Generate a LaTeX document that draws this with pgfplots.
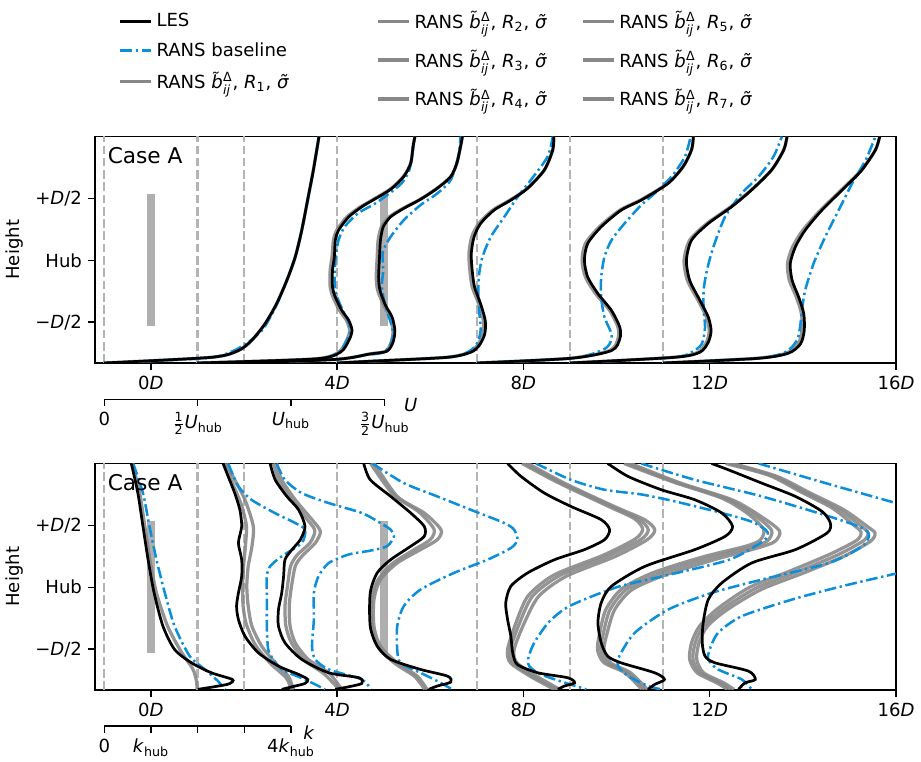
\documentclass[border=0pt]{standalone}
\usepackage{fontspec}
\setmainfont{DejaVu Sans}
\usepackage{pgfplots}
\pgfplotsset{compat=1.18}
\definecolor{rblue}{RGB}{12,143,218}
\definecolor{rgrey}{RGB}{136,136,136}
\definecolor{dgrey}{RGB}{180,180,180}
\definecolor{tgrey}{RGB}{175,175,175}
\newcommand{\bij}{\textit{b̃}$^{\mbox{\scriptsize Δ}}_{\mbox{\scriptsize\textit{ij}}}$}
\newcommand{\sig}{\textit{σ̃}}
\newcommand{\rn}[1]{RANS \bij, \textit{R}\textsubscript{#1}, \sig}
\pgfplotsset{
  les/.style={black, line width=1.5pt, smooth, tension=0.45},
  base/.style={rblue, line width=1.4pt, dash pattern=on 6.5pt off 2pt on 1.3pt off 2pt, smooth, tension=0.45},
  rans/.style={rgrey, line width=1.8pt, opacity=0.9, smooth, tension=0.45},
  vline/.style={dgrey, line width=1.3pt, dash pattern=on 4.8pt off 2pt},
  bar/.style={tgrey, line width=4.4pt, line cap=rect},
  geom/.style={scale only axis, width=443.43pt, height=125.39pt,
    xmin=-1.2, xmax=16, ymin=-0.83, ymax=1.0},
  main/.style={geom,
    xtick={0,4,8,12,16},
    xticklabels={0\textit{D},4\textit{D},8\textit{D},12\textit{D},16\textit{D}},
    ytick={-0.5,0,0.5}, yticklabels={−\textit{D}/2,Hub,+\textit{D}/2},
    tick align=outside, xtick pos=bottom, ytick pos=left,
    major tick length=3.7pt,
    axis line style={line width=0.8pt},
    every tick/.style={black, line width=0.8pt},
    ylabel={Height},
    ylabel style={at={(axis description cs:-0.0999,0.5)}, anchor=center},
  },
  leg/.style={legend style={draw=none, fill=none, font=\normalsize, anchor=north west, row sep=#1},
    legend cell align=left},
  sec/.style={scale only axis, height=2pt, ymin=0, ymax=1,
    axis x line*=bottom, hide y axis, tick align=outside,
    major tick length=3.7pt, axis line style={line width=0.8pt},
    every tick/.style={black, line width=0.8pt}},
}
\begin{document}
\begin{tikzpicture}
\useasboundingbox (0pt,0pt) rectangle (509.87pt,-421.84pt);
% ================= TOP PANEL (U) =================
\begin{axis}[main, at={(52.59pt,-200.96pt)}, anchor=south west,
  leg=3.2pt, legend style={at={(axis description cs:0.0225,1.578)}}]
\addlegendimage{black, line width=1.5pt}\addlegendentry{LES}
\addlegendimage{rblue, line width=1.4pt, dash pattern=on 6.5pt off 2pt on 1.3pt off 2pt}\addlegendentry{RANS baseline}
\addlegendimage{rgrey, line width=1.8pt}\addlegendentry{\rn{1}}
% measurement locations
\addplot[vline, forget plot] coordinates {(-1,-0.83) (-1,1)};
\addplot[vline, forget plot] coordinates {(1,-0.83) (1,1)};
\addplot[vline, forget plot] coordinates {(2,-0.83) (2,1)};
\addplot[vline, forget plot] coordinates {(4,-0.83) (4,1)};
\addplot[vline, forget plot] coordinates {(7,-0.83) (7,1)};
\addplot[vline, forget plot] coordinates {(9,-0.83) (9,1)};
\addplot[vline, forget plot] coordinates {(11,-0.83) (11,1)};
% turbines
\addplot[bar, forget plot] coordinates {(0,-0.5) (0,0.5)};
\addplot[bar, forget plot] coordinates {(5,-0.5) (5,0.5)};
% RANS variants
\addplot[rans, forget plot] coordinates {(-1.01,-0.83) (1.30,-0.784) (1.875,-0.730) (2.16,-0.649) (2.45,-0.514) (2.70,-0.351) (2.92,-0.162) (3.10,0.027) (3.24,0.243) (3.38,0.514) (3.49,0.730) (3.61,1.0)};
\addplot[rans, forget plot] coordinates {(0.99,-0.83) (3.50,-0.797) (4.03,-0.743) (4.20,-0.649) (4.27,-0.568) (4.20,-0.486) (4.05,-0.405) (3.91,-0.297) (3.85,-0.216) (3.85,-0.081) (3.89,0.027) (3.92,0.162) (3.99,0.243) (4.21,0.351) (4.50,0.432) (4.69,0.473) (5.13,0.573) (5.42,0.676) (5.58,0.784) (5.63,0.919) (5.67,1.0)};
\addplot[rans, forget plot] coordinates {(2.0,-0.83) (4.0,-0.80) (4.69,-0.757) (5.04,-0.735) (5.16,-0.662) (5.20,-0.568) (5.14,-0.459) (5.0,-0.365) (4.87,-0.243) (4.84,-0.135) (4.86,0.027) (4.88,0.162) (4.95,0.270) (5.12,0.351) (5.41,0.419) (5.78,0.492) (6.14,0.581) (6.44,0.676) (6.57,0.784) (6.65,0.919) (6.69,1.0)};
\addplot[rans, forget plot] coordinates {(4.0,-0.83) (4.71,-0.816) (6.35,-0.784) (6.84,-0.743) (7.01,-0.689) (7.13,-0.595) (7.14,-0.486) (7.04,-0.351) (6.90,-0.216) (6.85,-0.081) (6.83,0.054) (6.89,0.189) (7.04,0.297) (7.34,0.405) (7.71,0.486) (8.08,0.581) (8.45,0.730) (8.63,0.892) (8.65,1.0)};
\addplot[rans, forget plot] coordinates {(7.0,-0.83) (9.0,-0.792) (9.85,-0.730) (10.03,-0.635) (10.03,-0.541) (9.85,-0.405) (9.55,-0.270) (9.33,-0.135) (9.26,0.0) (9.33,0.135) (9.63,0.270) (10.07,0.405) (10.53,0.49) (11.10,0.622) (11.43,0.757) (11.61,0.892) (11.65,1.0)};
\addplot[rans, forget plot] coordinates {(9.0,-0.83) (11.22,-0.784) (11.75,-0.743) (11.93,-0.662) (11.99,-0.568) (11.93,-0.459) (11.75,-0.324) (11.52,-0.162) (11.45,0.0) (11.57,0.162) (11.94,0.297) (12.45,0.432) (12.89,0.568) (13.33,0.730) (13.59,0.892) (13.66,1.0)};
\addplot[rans, forget plot] coordinates {(11.0,-0.83) (13.0,-0.792) (13.64,-0.751) (13.90,-0.676) (13.98,-0.568) (13.97,-0.432) (13.86,-0.297) (13.71,-0.162) (13.67,-0.027) (13.78,0.108) (14.0,0.243) (14.38,0.405) (14.90,0.595) (15.26,0.730) (15.56,0.892) (15.65,1.0)};
% RANS baseline
\addplot[base, forget plot] coordinates {(-1.01,-0.83) (1.2,-0.79) (1.75,-0.735) (2.1,-0.66) (2.42,-0.55) (2.70,-0.36) (2.92,-0.162) (3.10,0.027) (3.24,0.243) (3.38,0.514) (3.49,0.730) (3.61,1.0)};
\addplot[base, forget plot] coordinates {(0.99,-0.83) (3.45,-0.80) (4.01,-0.75) (4.19,-0.66) (4.28,-0.568) (4.23,-0.486) (4.12,-0.405) (4.0,-0.297) (3.95,-0.216) (3.95,-0.081) (3.97,0.027) (4.03,0.162) (4.16,0.27) (4.45,0.38) (4.78,0.45) (5.05,0.52) (5.38,0.62) (5.55,0.73) (5.63,0.9) (5.66,1.0)};
\addplot[base, forget plot] coordinates {(2.0,-0.83) (4.0,-0.80) (4.6,-0.765) (4.93,-0.751) (5.11,-0.703) (5.2,-0.608) (5.16,-0.514) (5.04,-0.378) (4.96,-0.216) (4.99,-0.081) (4.98,0.068) (5.15,0.19) (5.43,0.324) (5.79,0.446) (6.15,0.54) (6.44,0.649) (6.6,0.838) (6.65,1.0)};
\addplot[base, forget plot] coordinates {(4.0,-0.83) (4.71,-0.816) (6.37,-0.784) (6.80,-0.743) (7.0,-0.676) (7.08,-0.568) (7.05,-0.405) (7.03,-0.243) (7.05,-0.108) (7.12,0.027) (7.30,0.189) (7.59,0.351) (7.88,0.514) (8.16,0.649) (8.52,0.838) (8.63,1.0)};
\addplot[base, forget plot] coordinates {(7.0,-0.83) (9.02,-0.792) (9.67,-0.730) (9.85,-0.676) (9.89,-0.595) (9.74,-0.459) (9.67,-0.297) (9.67,-0.135) (9.74,0.027) (9.89,0.162) (10.17,0.297) (10.53,0.446) (10.82,0.541) (11.18,0.676) (11.47,0.838) (11.59,1.0)};
\addplot[base, forget plot] coordinates {(9.0,-0.83) (11.2,-0.785) (11.61,-0.743) (11.83,-0.676) (11.90,-0.541) (11.87,-0.405) (11.87,-0.243) (11.94,-0.081) (12.08,0.108) (12.33,0.351) (12.69,0.541) (13.05,0.676) (13.37,0.838) (13.55,1.0)};
\addplot[base, forget plot] coordinates {(11.0,-0.83) (13.0,-0.795) (13.62,-0.743) (13.87,-0.649) (13.94,-0.541) (13.98,-0.405) (14.05,-0.243) (14.23,-0.027) (14.48,0.189) (14.77,0.405) (15.06,0.622) (15.35,0.811) (15.56,1.0)};
% LES
\addplot[les, forget plot] coordinates {(-1.01,-0.83) (1.30,-0.784) (1.875,-0.730) (2.16,-0.649) (2.45,-0.514) (2.70,-0.351) (2.92,-0.162) (3.10,0.027) (3.24,0.243) (3.38,0.514) (3.49,0.730) (3.61,1.0)};
\addplot[les, forget plot] coordinates {(0.99,-0.83) (3.53,-0.797) (4.07,-0.743) (4.25,-0.649) (4.32,-0.568) (4.25,-0.486) (4.10,-0.405) (3.96,-0.297) (3.90,-0.216) (3.90,-0.081) (3.94,0.027) (3.96,0.162) (4.03,0.243) (4.25,0.351) (4.53,0.432) (4.71,0.473) (5.15,0.573) (5.43,0.676) (5.58,0.784) (5.63,0.919) (5.67,1.0)};
\addplot[les, forget plot] coordinates {(2.0,-0.83) (4.0,-0.80) (4.71,-0.757) (5.07,-0.735) (5.20,-0.662) (5.24,-0.568) (5.18,-0.459) (5.04,-0.365) (4.92,-0.243) (4.89,-0.135) (4.91,0.027) (4.93,0.162) (4.99,0.270) (5.15,0.351) (5.43,0.419) (5.79,0.492) (6.15,0.581) (6.44,0.676) (6.57,0.784) (6.65,0.919) (6.69,1.0)};
\addplot[les, forget plot] coordinates {(4.0,-0.83) (4.71,-0.816) (6.37,-0.784) (6.87,-0.743) (7.05,-0.689) (7.17,-0.595) (7.18,-0.486) (7.08,-0.351) (6.95,-0.216) (6.90,-0.081) (6.88,0.054) (6.94,0.189) (7.08,0.297) (7.37,0.405) (7.73,0.486) (8.09,0.581) (8.45,0.730) (8.63,0.892) (8.65,1.0)};
\addplot[les, forget plot] coordinates {(7.0,-0.83) (9.02,-0.792) (9.89,-0.730) (10.07,-0.635) (10.07,-0.541) (9.89,-0.405) (9.60,-0.270) (9.38,-0.135) (9.31,0.0) (9.38,0.135) (9.67,0.270) (10.10,0.405) (10.55,0.49) (11.11,0.622) (11.43,0.757) (11.61,0.892) (11.65,1.0)};
\addplot[les, forget plot] coordinates {(9.0,-0.83) (11.25,-0.784) (11.79,-0.743) (11.97,-0.662) (12.03,-0.568) (11.97,-0.459) (11.79,-0.324) (11.57,-0.162) (11.50,0.0) (11.61,0.162) (11.97,0.297) (12.47,0.432) (12.90,0.568) (13.33,0.730) (13.59,0.892) (13.66,1.0)};
\addplot[les, forget plot] coordinates {(11.0,-0.83) (13.05,-0.792) (13.69,-0.751) (13.95,-0.676) (14.03,-0.568) (14.02,-0.432) (13.91,-0.297) (13.77,-0.162) (13.73,-0.027) (13.84,0.108) (14.05,0.243) (14.41,0.405) (14.92,0.595) (15.27,0.730) (15.56,0.892) (15.65,1.0)};
\node[anchor=west, font=\large] at (rel axis cs:0.008,0.915) {Case A};
\end{axis}
% legend columns 2 and 3 (hidden axes with the same geometry)
\begin{axis}[geom, hide axis, at={(52.59pt,-200.96pt)}, anchor=south west,
  leg=6.8pt, legend style={at={(axis description cs:0.3446,1.585)}}]
\addlegendimage{rgrey, line width=1.8pt}\addlegendentry{\rn{2}}
\addlegendimage{rgrey, line width=1.8pt}\addlegendentry{\rn{3}}
\addlegendimage{rgrey, line width=1.8pt}\addlegendentry{\rn{4}}
\end{axis}
\begin{axis}[geom, hide axis, at={(52.59pt,-200.96pt)}, anchor=south west,
  leg=6.8pt, legend style={at={(axis description cs:0.6005,1.585)}}]
\addlegendimage{rgrey, line width=1.8pt}\addlegendentry{\rn{5}}
\addlegendimage{rgrey, line width=1.8pt}\addlegendentry{\rn{6}}
\addlegendimage{rgrey, line width=1.8pt}\addlegendentry{\rn{7}}
\end{axis}
% ================= BOTTOM PANEL (k) =================
\begin{axis}[main, at={(52.59pt,-381.98pt)}, anchor=south west]
\addplot[vline] coordinates {(-1,-0.83) (-1,1)};
\addplot[vline] coordinates {(1,-0.83) (1,1)};
\addplot[vline] coordinates {(2,-0.83) (2,1)};
\addplot[vline] coordinates {(4,-0.83) (4,1)};
\addplot[vline] coordinates {(7,-0.83) (7,1)};
\addplot[vline] coordinates {(9,-0.83) (9,1)};
\addplot[vline] coordinates {(11,-0.83) (11,1)};
\addplot[bar] coordinates {(0,-0.5) (0,0.5)};
\addplot[bar] coordinates {(5,-0.5) (5,0.5)};
% RANS variants
\addplot[rans] coordinates {(-0.40,1.0) (-0.24,0.761) (-0.13,0.492) (-0.02,0.223) (0.12,-0.046) (0.36,-0.315) (0.65,-0.52) (0.90,-0.66) (0.98,-0.76) (0.99,-0.825)};
\addplot[rans] coordinates {(1.62,1.0) (1.80,0.868) (2.02,0.707) (2.20,0.492) (2.17,0.331) (2.09,0.169) (2.06,0.008) (2.09,-0.153) (2.17,-0.315) (2.38,-0.476) (2.67,-0.610) (2.95,-0.718) (3.06,-0.825)};
\addplot[rans] coordinates {(1.58,1.0) (1.74,0.85) (1.93,0.68) (2.05,0.5) (2.03,0.33) (1.99,0.17) (1.97,0.0) (1.98,-0.15) (2.05,-0.3) (2.25,-0.47) (2.58,-0.62) (2.9,-0.73) (3.02,-0.825)};
\addplot[rans] coordinates {(2.70,1.0) (2.81,0.868) (3.10,0.707) (3.46,0.546) (3.64,0.452) (3.53,0.358) (3.24,0.250) (3.10,0.169) (3.02,0.008) (2.97,-0.153) (2.99,-0.315) (3.10,-0.449) (3.38,-0.583) (3.82,-0.691) (4.10,-0.825)};
\addplot[rans] coordinates {(2.63,1.0) (2.74,0.868) (3.0,0.72) (3.33,0.56) (3.52,0.46) (3.42,0.36) (3.14,0.26) (3.0,0.17) (2.93,0.0) (2.88,-0.15) (2.9,-0.315) (3.02,-0.45) (3.3,-0.59) (3.72,-0.7) (4.04,-0.825)};
\addplot[rans] coordinates {(4.80,1.0) (5.29,0.734) (5.87,0.600) (6.23,0.465) (6.15,0.384) (5.79,0.304) (5.29,0.196) (4.93,0.062) (4.79,-0.099) (4.79,-0.315) (4.93,-0.476) (5.29,-0.610) (5.72,-0.718) (5.93,-0.825)};
\addplot[rans] coordinates {(4.72,1.0) (5.2,0.75) (5.75,0.61) (6.08,0.47) (6.0,0.385) (5.66,0.305) (5.18,0.19) (4.86,0.05) (4.74,-0.1) (4.74,-0.315) (4.88,-0.48) (5.22,-0.61) (5.66,-0.72) (5.88,-0.825)};
\addplot[rans] coordinates {(8.10,1.0) (8.88,0.841) (9.95,0.653) (10.6,0.546) (10.82,0.465) (10.66,0.385) (9.98,0.250) (8.92,0.089) (8.33,-0.072) (8.02,-0.287) (7.80,-0.503) (7.86,-0.610) (8.28,-0.718) (8.78,-0.825)};
\addplot[rans] coordinates {(8.03,1.0) (8.80,0.845) (9.85,0.66) (10.48,0.55) (10.68,0.465) (10.52,0.385) (9.84,0.255) (8.78,0.095) (8.2,-0.07) (7.92,-0.287) (7.72,-0.503) (7.78,-0.610) (8.2,-0.718) (8.72,-0.825)};
\addplot[rans] coordinates {(7.97,1.0) (8.72,0.85) (9.76,0.665) (10.38,0.555) (10.56,0.47) (10.40,0.39) (9.72,0.26) (8.66,0.10) (8.10,-0.07) (7.84,-0.287) (7.66,-0.503) (7.72,-0.610) (8.14,-0.718) (8.66,-0.825)};
\addplot[rans] coordinates {(10.30,1.0) (11.38,0.841) (12.48,0.707) (13.10,0.573) (13.50,0.455) (13.40,0.37) (13.05,0.32) (12.12,0.225) (11.05,0.10) (10.33,-0.02) (9.96,-0.18) (9.80,-0.368) (9.73,-0.503) (9.87,-0.610) (10.30,-0.691) (10.66,-0.825)};
\addplot[rans] coordinates {(10.23,1.0) (11.30,0.845) (12.38,0.712) (12.98,0.578) (13.33,0.46) (13.24,0.375) (12.9,0.325) (11.98,0.235) (10.92,0.11) (10.22,-0.015) (9.86,-0.18) (9.72,-0.368) (9.66,-0.503) (9.80,-0.610) (10.24,-0.691) (10.60,-0.825)};
\addplot[rans] coordinates {(10.16,1.0) (11.22,0.85) (12.28,0.717) (12.86,0.583) (13.16,0.465) (13.08,0.38) (12.76,0.33) (11.85,0.245) (10.80,0.12) (10.12,-0.01) (9.77,-0.18) (9.64,-0.368) (9.59,-0.503) (9.73,-0.610) (10.18,-0.691) (10.54,-0.825)};
\addplot[rans] coordinates {(12.50,1.0) (13.45,0.895) (14.16,0.761) (14.88,0.626) (15.38,0.492) (15.55,0.438) (15.45,0.371) (14.88,0.250) (14.02,0.116) (13.10,-0.019) (12.38,-0.180) (11.95,-0.315) (11.77,-0.449) (11.72,-0.583) (11.87,-0.691) (12.30,-0.772) (12.52,-0.825)};
\addplot[rans] coordinates {(12.42,1.0) (13.36,0.9) (14.05,0.767) (14.76,0.632) (15.24,0.497) (15.40,0.44) (15.30,0.375) (14.74,0.26) (13.88,0.125) (12.98,-0.01) (12.28,-0.175) (11.86,-0.315) (11.69,-0.449) (11.64,-0.583) (11.80,-0.691) (12.22,-0.772) (12.45,-0.825)};
\addplot[rans] coordinates {(12.34,1.0) (13.27,0.905) (13.95,0.772) (14.64,0.638) (15.10,0.5) (15.25,0.445) (15.16,0.38) (14.60,0.27) (13.75,0.135) (12.86,0.0) (12.18,-0.17) (11.78,-0.315) (11.61,-0.449) (11.57,-0.583) (11.73,-0.691) (12.15,-0.772) (12.38,-0.825)};
% RANS baseline
\addplot[base] coordinates {(-0.38,1.0) (-0.17,0.761) (-0.03,0.492) (0.12,0.223) (0.30,-0.046) (0.51,-0.315) (0.835,-0.557) (1.16,-0.664) (1.44,-0.758) (1.59,-0.825)};
\addplot[base] coordinates {(1.66,1.0) (1.88,0.815) (2.16,0.707) (2.66,0.600) (3.10,0.519) (3.31,0.465) (3.24,0.358) (2.81,0.250) (2.56,0.169) (2.49,0.089) (2.49,-0.099) (2.49,-0.315) (2.52,-0.503) (2.63,-0.583) (2.81,-0.664) (3.31,-0.745) (3.74,-0.825)};
\addplot[base] coordinates {(2.70,1.0) (2.88,0.868) (3.24,0.761) (3.82,0.680) (4.53,0.600) (4.93,0.519) (5.15,0.465) (5.22,0.411) (5.07,0.331) (4.7,0.295) (4.25,0.265) (3.82,0.196) (3.60,0.089) (3.50,-0.046) (3.50,-0.261) (3.46,-0.476) (3.53,-0.583) (3.82,-0.664) (4.53,-0.745) (4.72,-0.825)};
\addplot[base] coordinates {(4.76,1.0) (5.43,0.842) (6.15,0.734) (6.87,0.626) (7.59,0.519) (7.80,0.465) (7.87,0.384) (7.73,0.317) (7.23,0.223) (6.51,0.116) (5.79,-0.019) (5.43,-0.153) (5.29,-0.315) (5.29,-0.503) (5.36,-0.610) (5.79,-0.691) (6.15,-0.758) (6.47,-0.825)};
\addplot[base] coordinates {(8.27,1.0) (9.02,0.868) (9.74,0.788) (10.53,0.75) (11.25,0.694) (12.26,0.60) (12.9,0.53) (13.2,0.465) (13.25,0.42) (13.1,0.36) (12.4,0.22) (11.0,0.09) (10.0,0.0) (9.0,-0.15) (8.55,-0.28) (8.23,-0.45) (8.1,-0.58) (8.13,-0.64) (8.35,-0.70) (8.8,-0.76) (9.35,-0.825)};
\addplot[base] coordinates {(10.53,1.0) (11.68,0.868) (13.12,0.734) (14.56,0.573) (15.27,0.48) (15.42,0.42) (15.27,0.33) (14.56,0.196) (13.12,0.062) (12.04,-0.046) (11.11,-0.18) (10.39,-0.368) (10.06,-0.556) (10.03,-0.637) (10.25,-0.718) (10.68,-0.798) (10.96,-0.825)};
\addplot[base] coordinates {(13.05,1.0) (14.5,0.84) (16.05,0.675)};
\addplot[base] coordinates {(16.05,0.115) (14.84,0.008) (13.77,-0.099) (12.69,-0.234) (12.18,-0.368) (12.0,-0.503) (11.97,-0.583) (12.18,-0.664) (12.69,-0.745) (12.90,-0.825)};
% LES
\addplot[les] coordinates {(-0.42,1.0) (-0.28,0.761) (-0.17,0.492) (-0.06,0.223) (0.07,-0.046) (0.26,-0.315) (0.51,-0.503) (0.87,-0.61) (1.30,-0.691) (1.75,-0.745) (1.70,-0.777) (1.53,-0.793) (1.01,-0.825)};
\addplot[les] coordinates {(1.55,1.0) (1.66,0.895) (1.80,0.761) (1.91,0.627) (1.95,0.492) (1.88,0.358) (1.95,0.223) (1.95,0.089) (1.88,-0.046) (1.84,-0.153) (1.88,-0.261) (2.02,-0.395) (2.31,-0.530) (2.74,-0.637) (3.17,-0.704) (3.37,-0.745) (3.31,-0.777) (3.10,-0.798) (2.81,-0.825)};
\addplot[les] coordinates {(2.56,1.0) (2.67,0.868) (2.92,0.734) (3.17,0.627) (3.31,0.492) (3.21,0.385) (3.03,0.304) (2.88,0.223) (2.85,0.089) (2.81,-0.046) (2.74,-0.180) (2.74,-0.315) (2.88,-0.449) (3.24,-0.583) (3.82,-0.691) (4.47,-0.731) (4.53,-0.777) (4.25,-0.804) (3.96,-0.825)};
\addplot[les] coordinates {(4.57,1.0) (4.71,0.869) (5.15,0.734) (5.58,0.600) (5.87,0.492) (5.87,0.411) (5.58,0.331) (5.15,0.223) (4.86,0.116) (4.71,-0.046) (4.71,-0.315) (4.86,-0.476) (5.15,-0.583) (5.79,-0.664) (6.37,-0.718) (6.44,-0.766) (6.15,-0.798) (5.97,-0.825)};
\addplot[les] coordinates {(7.66,1.0) (7.95,0.895) (8.45,0.761) (9.02,0.653) (9.67,0.546) (9.85,0.465) (9.74,0.384) (9.31,0.304) (8.67,0.223) (8.09,0.116) (7.73,0.008) (7.62,-0.126) (7.66,-0.261) (7.73,-0.395) (7.77,-0.530) (7.87,-0.624) (8.31,-0.691) (8.95,-0.731) (9.10,-0.772) (8.88,-0.798) (8.74,-0.825)};
\addplot[les] coordinates {(9.81,1.0) (10.25,0.895) (10.96,0.788) (11.68,0.707) (12.26,0.600) (12.49,0.492) (12.33,0.411) (11.68,0.304) (10.61,0.169) (9.89,0.008) (9.67,-0.126) (9.60,-0.288) (9.67,-0.449) (9.81,-0.557) (10.10,-0.611) (10.82,-0.691) (11.03,-0.745) (10.82,-0.785) (10.68,-0.825)};
\addplot[les] coordinates {(12.04,1.0) (12.40,0.949) (13.12,0.841) (13.84,0.734) (14.41,0.613) (14.59,0.519) (14.52,0.438) (13.84,0.304) (12.90,0.196) (12.26,0.035) (11.97,-0.099) (11.86,-0.287) (11.84,-0.448) (11.90,-0.556) (12.11,-0.610) (12.83,-0.677) (12.98,-0.745) (12.76,-0.772) (12.62,-0.825)};
\node[anchor=west, font=\large] at (rel axis cs:0.008,0.915) {Case A};
\end{axis}
% ================= secondary scales =================
\begin{axis}[sec, at={(57.74pt,-221.05pt)}, anchor=south west, width=155.0pt,
  xmin=0, xmax=1.5, xtick={0,0.5,1,1.5},
  xticklabels={0, $\frac{\mbox{\scriptsize 1}}{\mbox{\scriptsize 2}}$\textit{U}\textsubscript{hub}, \textit{U}\textsubscript{hub}, $\frac{\mbox{\scriptsize 3}}{\mbox{\scriptsize 2}}$\textit{U}\textsubscript{hub}}]
\addplot[draw=none] coordinates {(0,0) (1.5,1)};
\end{axis}
\begin{axis}[sec, at={(57.74pt,-401.91pt)}, anchor=south west, width=103.36pt,
  xmin=0, xmax=4, xtick={0,1,2,3,4},
  xticklabels={0, \textit{k}\textsubscript{hub}, , , 4\textit{k}\textsubscript{hub}}]
\addplot[draw=none] coordinates {(0,0) (4,1)};
\end{axis}
\node at (227.37pt,-224.21pt) {\textit{U}};
\node at (171.06pt,-405.79pt) {\textit{k}};
\end{tikzpicture}
\end{document}
